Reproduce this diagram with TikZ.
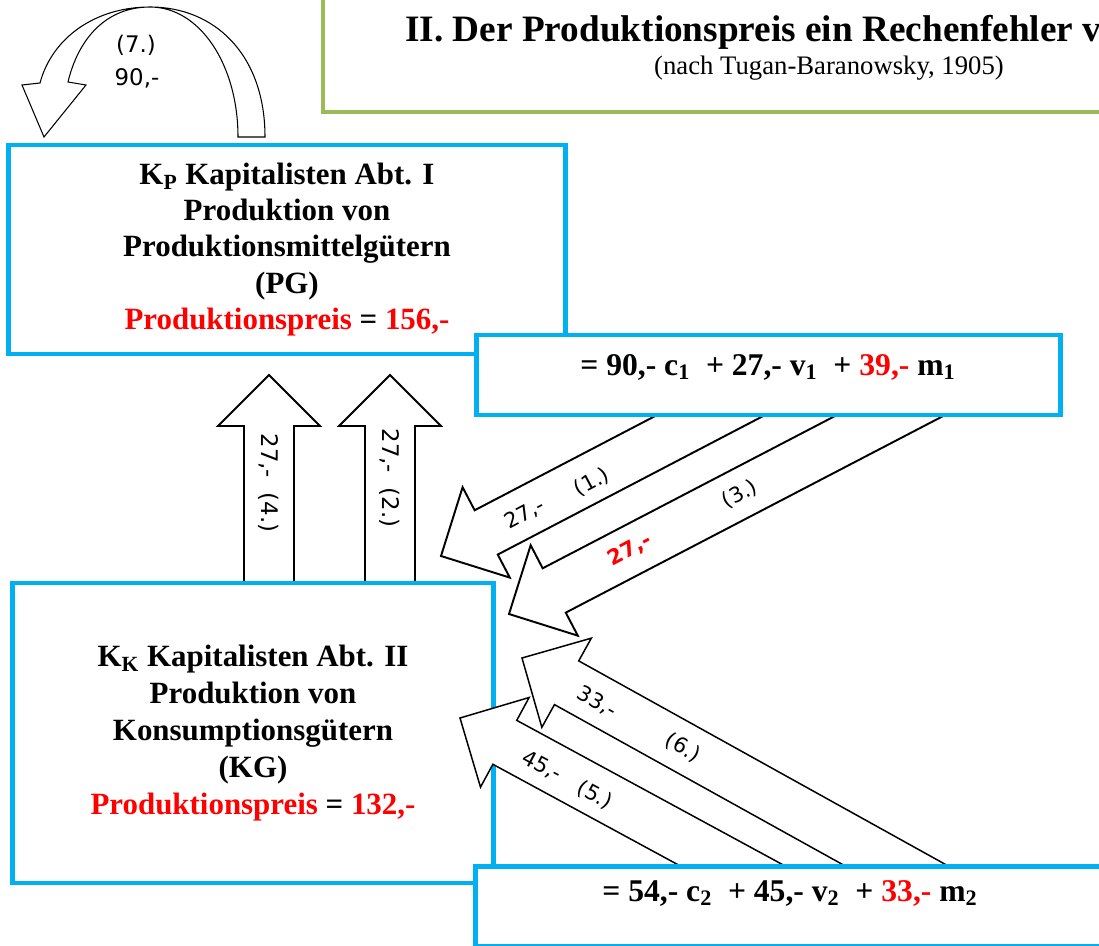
\documentclass[tikz,border=0pt]{standalone}
\usepackage{fontspec}
\setmainfont{Liberation Serif}
\newfontfamily\lblfont{DejaVu Sans}
\usetikzlibrary{backgrounds, calc}
\definecolor{boxcol}{RGB}{0, 176, 240}
\definecolor{titlecol}{RGB}{155, 187, 89}
\definecolor{pricecol}{RGB}{255, 0, 0}
\newcommand\preis[1]{\textcolor{pricecol}{#1}}
\tikzset{
  abt/.style     = {draw=boxcol, line width=2.8pt, fill=white, align=center,
                    inner sep=0pt},
  formel/.style  = {draw=boxcol, line width=2.8pt, fill=white, inner sep=0pt},
  kptext/.style  = {font=\fontsize{17.6}{20.6}\selectfont\bfseries},
  kktext/.style  = {font=\fontsize{17.6}{21}\selectfont\bfseries},
  ftext/.style   = {font=\fontsize{18}{20}\selectfont\bfseries, inner sep=0pt},
  fat/.style     = {draw=black, line width=1.1pt, fill=white, line join=miter},
  slim/.style    = {fat, line width=0.85pt},
  curl/.style    = {draw=black, line width=0.6pt, line join=miter},
  albl/.style    = {font=\lblfont\fontsize{12}{14}\selectfont, inner sep=0pt},
}
% block arrow: style, name, start, tip
\newcommand\fatarrow[4][fat]{%
  \coordinate (#2h) at ($(#4)!1.02cm!(#3)$);
  \draw[#1] ($(#3)!0.5cm!90:(#4)$) -- ($(#2h)!0.5cm!-90:(#3)$)
    -- ($(#2h)!1.02cm!-90:(#3)$) -- (#4) -- ($(#2h)!1.02cm!90:(#3)$)
    -- ($(#2h)!0.5cm!90:(#3)$) -- ($(#3)!0.5cm!-90:(#4)$) -- cycle;
}

\begin{document}
\begin{tikzpicture}[x=0.02cm, y=-0.02cm]
  \useasboundingbox (0,0) rectangle (1099,946);

  %% ---------------- the title ----------------
  \draw[titlecol, line width=2.3pt] (323,-20) rectangle (1130,112);
  \node[anchor=base west, inner sep=0pt,
        font=\fontsize{21.2}{24}\selectfont\bfseries] (title) at (405,42)
       {II. Der Produktionspreis ein Rechenfehler v};
  \node[anchor=base, inner sep=0pt, font=\fontsize{15.2}{17}\selectfont]
       (subtitle) at (829,75) {(nach Tugan-Baranowsky, 1905)};

  %% ---------------- the two departments ----------------
  \node[abt, kptext, minimum width=11.16cm, minimum height=4.18cm]
       (kp) at (287,249.5)
       {K\textsubscript{P} Kapitalisten Abt. I\\
        Produktion von\\
        Produktionsmittelgütern\\
        (PG)\\
        \preis{Produktionspreis} = \preis{156,-}};
  \node[formel, minimum width=11.7cm, minimum height=1.6cm]
       (f1) at (768.5,375) {};
  \node[ftext] (f1txt) at (768,367)
       {= 90,- c\textsubscript{1}\ \ + 27,- v\textsubscript{1}\ \ +
        \preis{39,-} m\textsubscript{1}};

  \node[abt, kktext, minimum width=9.64cm, minimum height=6cm]
       (kk) at (253,733)
       {K\textsubscript{K} Kapitalisten Abt. II\\
        Produktion von\\
        Konsumptionsgütern\\
        (KG)\\
        \preis{Produktionspreis} = \preis{132,-}};

  %% ---------------- the exchanges ----------------
  \coordinate (a4s) at (269,590);  \coordinate (a4t) at (269,375);
  \coordinate (a2s) at (390,590);  \coordinate (a2t) at (390,375);
  \coordinate (a1s) at (759,390);  \coordinate (a1t) at (441,556);
  \coordinate (a3s) at (939,390);  \coordinate (a3t) at (509,614);
  \coordinate (a5s) at (777,890);  \coordinate (a5t) at (460,718);
  \coordinate (a6s) at (940,890);  \coordinate (a6t) at (522,658);

  \begin{scope}[on background layer]
    \fatarrow{a4}{a4s}{a4t}
    \fatarrow{a2}{a2s}{a2t}
    \fatarrow{a1}{a1s}{a1t}
    \fatarrow{a3}{a3s}{a3t}
  \end{scope}
  % these two lie over Abt. II, under its formula
  \fatarrow[slim]{a5}{a5s}{a5t}
  \fatarrow[slim]{a6}{a6s}{a6t}

  \node[formel, anchor=north west, minimum width=12.9cm, minimum height=1.6cm]
       (f2) at (473,864) {};
  \node[ftext] (f2txt) at (790,893)
       {= 54,- c\textsubscript{2}\ \ + 45,- v\textsubscript{2}\ \ +
        \preis{33,-} m\textsubscript{2}};

  \node[albl, rotate=-90, font=\lblfont\fontsize{13}{15}\selectfont]
       (l4) at (269,483) {27,-\ \ (4.)};
  \node[albl, rotate=-90, font=\lblfont\fontsize{13}{15}\selectfont]
       (l2) at (390,478) {27,-\ \ (2.)};
  \foreach \n/\pos/\ang/\txt in {l1a/{525,514}/28/{27,-}, l1b/{592,482}/28/{(1.)},
                                 l3b/{740,494}/28/{(3.)},
                                 l6a/{597,702}/-29/{33,-}, l6b/{683,748}/-29/{(6.)},
                                 l5a/{542,766}/-28/{45,-}, l5b/{595,795}/-28/{(5.)}} {
    \node[albl, rotate=\ang] (\n) at (\pos) {\txt};
  }
  \node[albl, rotate=28, text=pricecol, font=\lblfont\fontsize{12}{14}\selectfont\bfseries]
       (l3a) at (630,550) {27,-};

  %% ---------------- the self supply ----------------
  \draw[curl] (265,137) .. controls (265,55) and (215,7) .. (150,7)
              .. controls (105,7) and (78,40) .. (68,82)
              -- (86,85) -- (44,137) -- (22,85) -- (40,83)
              .. controls (52,38) and (95,7) .. (150,7)
              .. controls (200,7) and (238,65) .. (238,137) -- cycle;
  \node[albl, font=\lblfont\fontsize{13}{15}\selectfont] (l7a) at (136,45) {(7.)};
  \node[albl, font=\lblfont\fontsize{13}{15}\selectfont] (l7b) at (137,78) {90,-};

\end{tikzpicture}
\end{document}
